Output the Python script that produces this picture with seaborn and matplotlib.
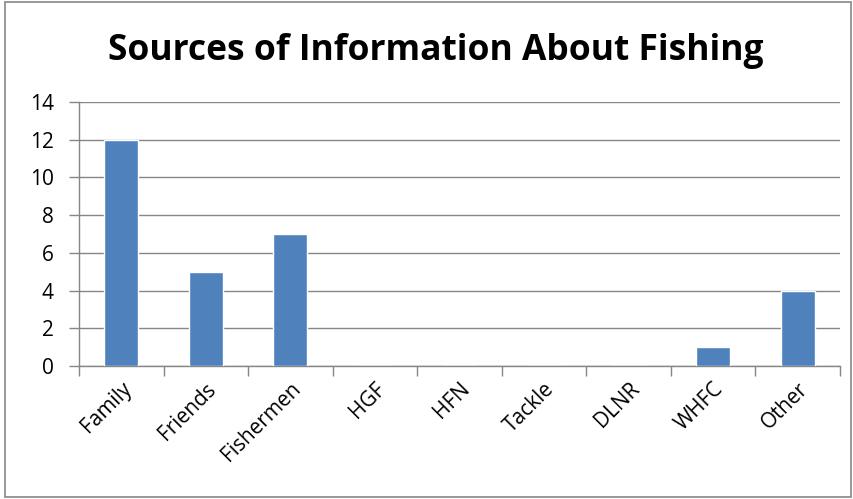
import matplotlib
matplotlib.use("Agg")
import matplotlib.pyplot as plt
import seaborn as sns
import numpy as np
import pandas as pd
from matplotlib.patches import Rectangle

categories = ["Family", "Friends", "Fishermen", "HGF", "HFN", "Tackle", "DLNR", "WHFC", "Other"]
values = [12, 5, 7, 0, 0, 0, 0, 1, 4]
y_ticks = [0, 2, 4, 6, 8, 10, 12, 14]
title = "Sources of Information About Fishing"

sns.set_theme(style="white")
plt.rcParams['font.family'] = ['Open Sans', 'DejaVu Sans']
plt.rcParams['text.color'] = 'black'

df = pd.DataFrame({"cat": categories, "val": values})

fig = plt.figure(figsize=(8.54, 4.99), dpi=100)
ax = fig.add_axes([0.0925, 0.2665, 0.8911, 0.5291])

sns.barplot(data=df, x="cat", y="val", color="#4F81BD", width=0.4, saturation=1, ax=ax, zorder=3)

ax.set_ylim(0, 14)
ax.set_yticks(y_ticks)
ax.set_xlim(-0.5, len(categories) - 0.5)
ax.grid(axis="y", color="#868686", linewidth=1, zorder=0)
ax.set_axisbelow(True)
for s in ["top", "right"]:
    ax.spines[s].set_visible(False)
for s in ["left", "bottom"]:
    ax.spines[s].set_color("#868686")
    ax.spines[s].set_linewidth(1)
ax.set_xlabel("")
ax.set_ylabel("")

ax.set_xticks(np.arange(-0.5, len(categories), 1), minor=True)
ax.tick_params(axis="x", which="major", length=0, pad=9, labelsize=15, labelcolor="black")
ax.tick_params(axis="x", which="minor", length=7, color="#868686", width=1, direction="out", bottom=True)
ax.tick_params(axis="y", which="major", length=7, color="#868686", width=1, direction="out", left=True,
               labelsize=15, pad=11, labelcolor="black")
for lbl in ax.get_xticklabels():
    lbl.set_rotation(45)
    lbl.set_ha("right")
    lbl.set_rotation_mode("anchor")

fig.text(0.5105, 0.897, title, ha="center", va="center", fontsize=25.5, fontweight="bold", color="black")

fig.patches.append(Rectangle((0.006, 0.004), 0.991, 0.991, transform=fig.transFigure,
                             fill=False, edgecolor="#868686", linewidth=1.2))

fig.savefig("out.png", dpi=100)
